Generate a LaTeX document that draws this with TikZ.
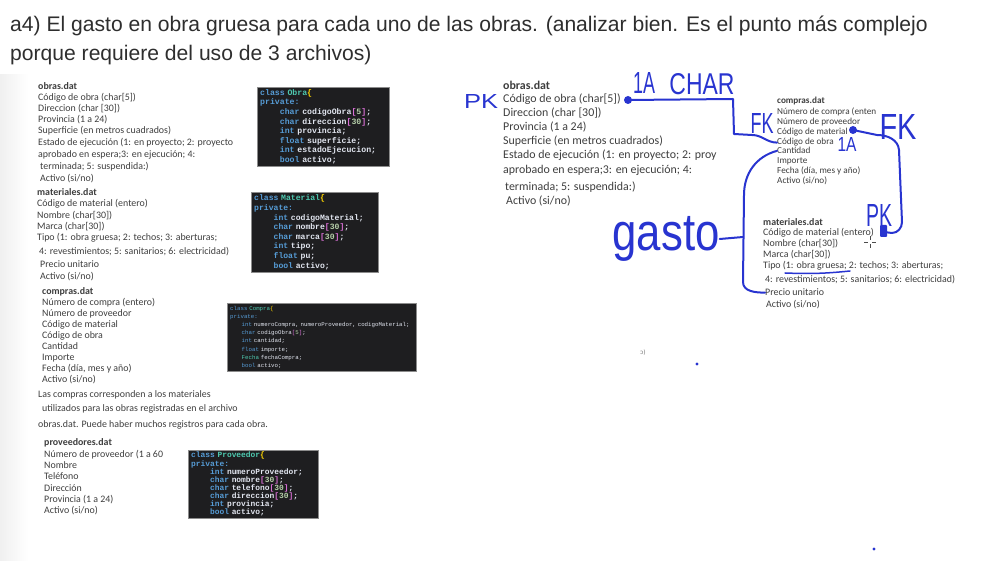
\documentclass[tikz,border=0pt]{standalone}
\usepackage{fontspec}
\setmainfont{Carlito}
\setmonofont{Liberation Mono}
\newfontfamily\titulofont{Liberation Sans}
\newfontfamily\manofont{Liberation Sans}
\newfontfamily\ipafont{DejaVu Sans}
\usepackage{tikz}
\usetikzlibrary{positioning, calc}

\definecolor{texto}{RGB}{62,62,62}
\definecolor{tinta}{RGB}{40,52,208}
\definecolor{fondocod}{RGB}{30,30,32}
\definecolor{codazul}{RGB}{86,156,214}
\definecolor{codverde}{RGB}{78,201,176}
\definecolor{codclaro}{RGB}{226,230,240}
\definecolor{codnum}{RGB}{181,206,168}
\definecolor{codllave}{RGB}{255,215,0}
\definecolor{codcorch}{RGB}{218,112,214}

% colores del codigo
\newcommand{\ckw}[1]{\textcolor{codazul}{#1}}
\newcommand{\ccl}[1]{\textcolor{codverde}{#1}}
\newcommand{\cnu}[1]{\textcolor{codnum}{#1}}
\newcommand{\cll}[1]{\textcolor{codllave}{#1}}
\newcommand{\ccr}[1]{\textcolor{codcorch}{#1}}
\newcommand{\sangria}{\hspace*{2.4em}}

\begin{document}
\begin{tikzpicture}[
            x=1pt, y=-1pt,
            titulo/.style={anchor=base west, inner sep=0pt, text=black!82, font=\titulofont\fontsize{21.1}{25}\selectfont},
            fila/.style={anchor=base west, inner sep=0pt, text=texto, font=\fontsize{9.9}{11}\selectfont},
            filaG/.style={fila, font=\fontsize{11.9}{13}\selectfont},
            filaP/.style={fila, font=\fontsize{9.2}{10}\selectfont},
            codigo/.style={fill=fondocod, draw=black!45, anchor=north west, inner xsep=3pt, inner ysep=2pt, align=left, text=codclaro},
            mano/.style={text=tinta, inner sep=0pt, font=\manofont},
            trazo/.style={draw=tinta, line width=2pt, line cap=round, line join=round}
        ]

        % --- Fondo ---
        \useasboundingbox (0,0) rectangle (997,561);
        \fill[white] (0,0) rectangle (997,561);
        \shade[left color=black!6, right color=white] (0,75) rectangle (28,561);

        % --- Enunciado ---
        \node[titulo] (tit1) at (10,32) {a4) El gasto en obra gruesa para cada uno de las obras. (analizar bien. Es el punto más complejo};
        \node[titulo] (tit2) at (10,61) {porque requiere del uso de 3 archivos)};

        % --- Columna izquierda: obras.dat ---
        \node[fila, font=\bfseries\fontsize{9.9}{11}\selectfont] (lObras) at (38,90) {obras.dat};
        \node[fila] (lo1) at (38,101) {Código de obra (char[5])};
        \node[fila] (lo2) at (38,112) {Direccion (char [30])};
        \node[fila] (lo3) at (38,123) {Provincia (1 a 24)};
        \node[fila] (lo4) at (38,134) {Superficie (en metros cuadrados)};
        \node[fila] (lo5) at (38,146) {Estado de ejecución (1: en proyecto; 2: proyecto};
        \node[fila] (lo6) at (38,158) {aprobado en espera;3: en ejecución; 4:};
        \node[fila] (lo7) at (40,170) {terminada; 5: suspendida:)};
        \node[fila] (lo8) at (40,182) {Activo (si/no)};

        \node[codigo, text width=126pt, minimum height=79pt, font=\ttfamily\bfseries\fontsize{8.2}{9.6}\selectfont] (claseObra) at (257,87) {%
        \ckw{class} \ccl{Obra}\cll{\{}\\
        \ckw{private:}\\
        \sangria\ckw{char} codigoObra\ccr{[}\cnu{5}\ccr{]};\\
        \sangria\ckw{char} direccion\ccr{[}\cnu{30}\ccr{]};\\
        \sangria\ckw{int} provincia;\\
        \sangria\ckw{float} superficie;\\
        \sangria\ckw{int} estadoEjecucion;\\
        \sangria\ckw{bool} activo;};

        % --- Columna izquierda: materiales.dat ---
        \node[fila, font=\bfseries\fontsize{9.9}{11}\selectfont] (lMat) at (37,196) {materiales.dat};
        \node[fila] (lm1) at (37,207) {Código de material (entero)};
        \node[fila] (lm2) at (37,219) {Nombre (char[30])};
        \node[fila] (lm3) at (37,230) {Marca (char[30])};
        \node[fila] (lm4) at (37,241) {Tipo (1: obra gruesa; 2: techos; 3: aberturas;};
        \node[fila] (lm5) at (39,255) {4: revestimientos; 5: sanitarios; 6: electricidad)};
        \node[fila] (lm6) at (40,268) {Precio unitario};
        \node[fila] (lm7) at (40,280) {Activo (si/no)};

        \node[codigo, text width=121pt, minimum height=80pt, font=\ttfamily\bfseries\fontsize{8.1}{9.6}\selectfont] (claseMat) at (251,192) {%
        \ckw{class} \ccl{Material}\cll{\{}\\
        \ckw{private:}\\
        \sangria\ckw{int} codigoMaterial;\\
        \sangria\ckw{char} nombre\ccr{[}\cnu{30}\ccr{]};\\
        \sangria\ckw{char} marca\ccr{[}\cnu{30}\ccr{]};\\
        \sangria\ckw{int} tipo;\\
        \sangria\ckw{float} pu;\\
        \sangria\ckw{bool} activo;};

        % --- Columna izquierda: compras.dat ---
        \node[fila, font=\bfseries\fontsize{9.9}{11}\selectfont] (lComp) at (42,295) {compras.dat};
        \node[fila] (lc1) at (42,306) {Número de compra (entero)};
        \node[fila] (lc2) at (42,317) {Número de proveedor};
        \node[fila] (lc3) at (42,328) {Código de material};
        \node[fila] (lc4) at (42,339) {Código de obra};
        \node[fila] (lc5) at (42,350) {Cantidad};
        \node[fila] (lc6) at (42,361) {Importe};
        \node[fila] (lc7) at (42,372) {Fecha (día, mes y año)};
        \node[fila] (lc8) at (42,383) {Activo (si/no)};
        \node[fila] (lc9) at (38,398) {Las compras corresponden a los materiales};
        \node[fila] (lc10) at (42,412) {utilizados para las obras registradas en el archivo};
        \node[fila] (lc11) at (38,428) {obras.dat. Puede haber muchos registros para cada obra.};

        \node[codigo, text width=183pt, minimum height=68pt, font=\ttfamily\fontsize{5.75}{8.2}\selectfont] (claseComp) at (227,303) {%
        \ckw{class} \ccl{Compra}\cll{\{}\\
        \ckw{private:}\\
        \hspace*{2em}\ckw{int} numeroCompra, numeroProveedor, codigoMaterial;\\
        \hspace*{2em}\ckw{char} codigoObra\ccr{[}\cnu{5}\ccr{]};\\
        \hspace*{2em}\ckw{int} cantidad;\\
        \hspace*{2em}\ckw{float} importe;\\
        \hspace*{2em}\ccl{Fecha} fechaCompra;\\
        \hspace*{2em}\ckw{bool} activo;};

        % --- Columna izquierda: proveedores.dat ---
        \node[fila, font=\bfseries\fontsize{9.9}{11}\selectfont] (lProv) at (44,446) {proveedores.dat};
        \node[fila] (lp1) at (44,458) {Número de proveedor (1 a 60};
        \node[fila] (lp2) at (44,469) {Nombre};
        \node[fila] (lp3) at (44,480) {Teléfono};
        \node[fila] (lp4) at (44,491) {Dirección};
        \node[fila] (lp5) at (44,502) {Provincia (1 a 24)};
        \node[fila] (lp6) at (44,513) {Activo (si/no)};

        \node[codigo, text width=124pt, minimum height=66pt, font=\ttfamily\bfseries\fontsize{7.9}{8.1}\selectfont] (claseProv) at (188,450) {%
        \ckw{class} \ccl{Proveedor}\cll{\{}\\
        \ckw{private:}\\
        \sangria\ckw{int} numeroProveedor;\\
        \sangria\ckw{char} nombre\ccr{[}\cnu{30}\ccr{]};\\
        \sangria\ckw{char} telefono\ccr{[}\cnu{30}\ccr{]};\\
        \sangria\ckw{char} direccion\ccr{[}\cnu{30}\ccr{]};\\
        \sangria\ckw{int} provincia;\\
        \sangria\ckw{bool} activo;};

        % --- Derecha: obras.dat ---
        \node[filaG, font=\bfseries\fontsize{11.9}{13}\selectfont] (rObras) at (503,90) {obras.dat};
        \node[filaG] (rCodObra) at (503,103) {Código de obra (char[5])};
        \node[filaG] (ro2) at (503,117) {Direccion (char [30])};
        \node[filaG] (ro3) at (503,131) {Provincia (1 a 24)};
        \node[filaG] (ro4) at (503,145) {Superficie (en metros cuadrados)};
        \node[filaG] (ro5) at (503,159) {Estado de ejecución (1: en proyecto; 2: proy};
        \node[filaG] (ro6) at (503,174) {aprobado en espera;3: en ejecución; 4:};
        \node[filaG] (ro7) at (505,191) {terminada; 5: suspendida:)};
        \node[filaG] (ro8) at (506,205) {Activo (si/no)};

        % --- Derecha: compras.dat ---
        \node[filaP, font=\bfseries\fontsize{9.2}{10}\selectfont] (rComp) at (777,104) {compras.dat};
        \node[filaP] (rc1) at (777,115) {Número de compra (enten};
        \node[filaP] (rc2) at (777,125) {Número de proveedor};
        \node[filaP] (rcCodMat) at (777,135) {Código de material};
        \node[filaP] (rcCodObra) at (777,145) {Código de obra};
        \node[filaP] (rcCant) at (777,154) {Cantidad};
        \node[filaP] (rc6) at (777,164) {Importe};
        \node[filaP] (rc7) at (777,174) {Fecha (día, mes y año)};
        \node[filaP] (rc8) at (777,184) {Activo (si/no)};

        % --- Derecha: materiales.dat ---
        \node[fila, font=\bfseries\fontsize{9.9}{11}\selectfont] (rMat) at (763,226) {materiales.dat};
        \node[fila] (rmCod) at (763,236) {Código de material (entero)};
        \node[fila] (rm2) at (763,247) {Nombre (char[30])};
        \node[fila] (rm3) at (763,258) {Marca (char[30])};
        \node[fila] (rmTipo) at (763,269) {Tipo (1: obra gruesa; 2: techos; 3: aberturas;};
        \node[fila] (rm5) at (765,283) {4: revestimientos; 5: sanitarios; 6: electricidad)};
        \node[fila] (rmPrecio) at (765,296) {Precio unitario};
        \node[fila] (rm7) at (766,308) {Activo (si/no)};

        \node[fila, font=\ipafont\fontsize{6}{7}\selectfont, text=black!55] (marcaB) at (640,355) {ɔ)};

        % --- Anotaciones a mano ---
        \coordinate (puntoObra) at (628,100);
        \coordinate (puntoMat) at (853,130);
        \coordinate (finPK) at (884,232);

        % relacion obras -> compras (codigo de obra)
        \draw[trazo] (puntoObra) -- (733,99) -- (734,134) -- (752,135) to[out=0,in=180] (rcCodObra.west);
        \fill[tinta] (puntoObra) circle (4);

        % relacion compras -> materiales (codigo de material)
        \draw[trazo] (puntoMat) -- (877,135) to[out=0,in=95] (899,150) -- (902,222) to[out=-90,in=0] (892,233) -- (finPK);
        \fill[tinta, rounded corners=1pt] (880,225) rectangle (887,237);
        \fill[tinta] (puntoMat) circle (4);

        % llave del gasto
        \node[mano] (gasto) at (666,239) {\resizebox*{107pt}{45pt}{gasto}};
        \draw[trazo] (rcCant.west) to[out=195,in=90] (744,195) -- (743,282) to[out=-90,in=180] (rmPrecio.west);
        \draw[trazo] (gasto.east) -- (743,237);

        % subrayado de obra gruesa
        \draw[trazo, line width=1.5pt] (785,273) to[bend right=4] (850,271);

        \node[mano] (pkObra) at (481,102) {\resizebox{34pt}{14pt}{PK}};
        \node[mano] (unoA) at (644,83) {\resizebox{22pt}{21pt}{1A}};
        \node[mano] (tipoChar) at (702,84) {\resizebox{65pt}{21pt}{CHAR}};
        \node[mano] (fkObra) at (762,124) {\resizebox{23pt}{20pt}{FK}};
        \node[mano] (fkMat) at (898,127) {\resizebox{37pt}{25pt}{FK}};
        \node[mano] (unoB) at (847,145) {\resizebox{19pt}{14pt}{1A}};
        \node[mano] (pkMat) at (879,216) {\resizebox{26pt}{22pt}{PK}};

        % puntos sueltos y cursor
        \fill[tinta] (697,364) circle (1.6);
        \fill[tinta] (874,549) circle (1.6);
        \draw[black!70, line width=0.8pt] (870,236) -- (870,240) (870,244) -- (870,248) (864,242) -- (868,242) (872,242) -- (876,242);

\end{tikzpicture}
\end{document}
